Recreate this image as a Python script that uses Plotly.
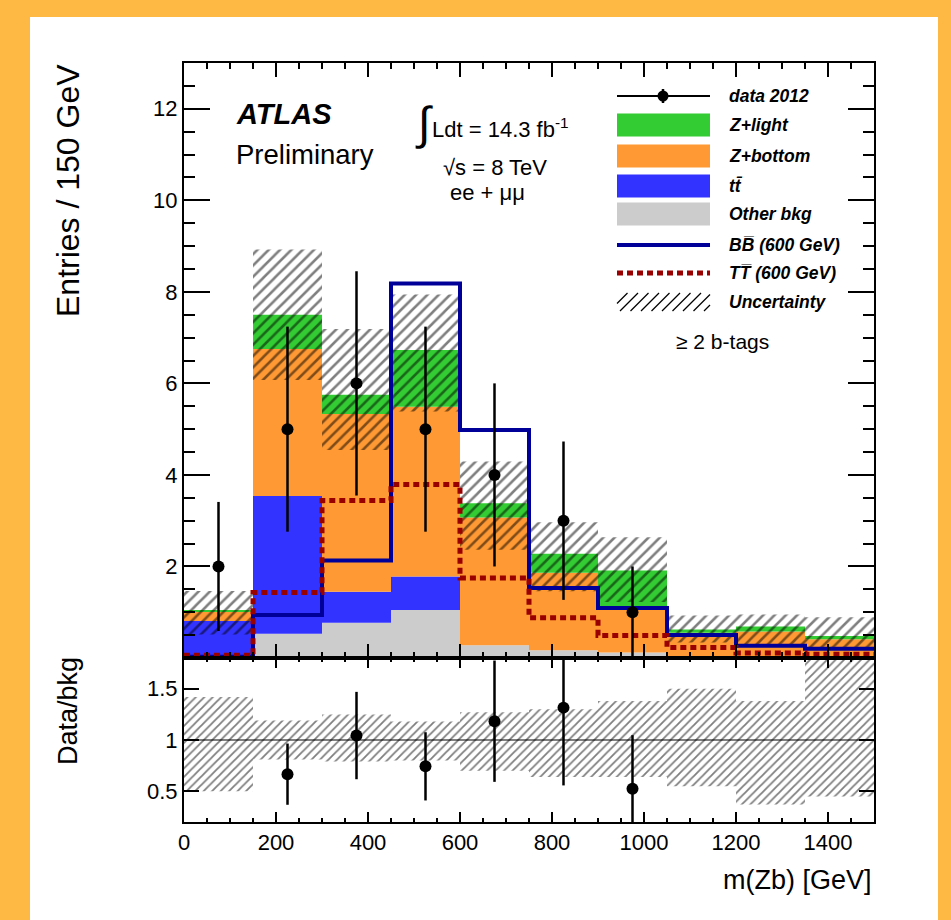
import numpy as np
import plotly.graph_objects as go

# ---------------- data ----------------
bin_edges = [0, 150, 300, 450, 600, 750, 900, 1050, 1200, 1350, 1500]
other_bkg = [0.03, 0.53, 0.77, 1.05, 0.28, 0.17, 0.12, 0.03, 0.03, 0.03]
ttbar     = [0.78, 3.01, 0.68, 0.73, 0.00, 0.00, 0.00, 0.00, 0.00, 0.00]
z_bottom  = [0.21, 3.21, 3.88, 3.71, 2.79, 1.69, 1.01, 0.52, 0.55, 0.38]
z_light   = [0.01, 0.75, 0.42, 1.24, 0.31, 0.42, 0.78, 0.07, 0.11, 0.07]
data_counts = [2, 5, 6, 5, 4, 3, 1, 0, 0, 0]
data_err    = [1.41, 2.24, 2.45, 2.24, 2.00, 1.73, 1.00, 0, 0, 0]
bb600 = [0.03, 0.94, 2.13, 8.18, 4.98, 1.53, 1.09, 0.50, 0.27, 0.20]
tt600 = [0.06, 1.43, 3.44, 3.79, 1.75, 0.88, 0.49, 0.23, 0.11, 0.08]
unc_rel_up = [1.42, 1.19, 1.25, 1.18, 1.27, 1.30, 1.38, 1.50, 1.38, 1.85]
unc_rel_dn = [0.50, 0.81, 0.79, 0.80, 0.70, 0.64, 0.64, 0.55, 0.37, 0.45]
x_ticks = [0, 200, 400, 600, 800, 1000, 1200, 1400]
y_ticks = [2, 4, 6, 8, 10, 12]
r_ticks = [0.5, 1, 1.5]

# ---------------- derived ----------------
edges = np.array(bin_edges, float)
centers = 0.5 * (edges[:-1] + edges[1:])
widths = np.diff(edges)
c_gray = np.array(other_bkg)
c_blue = c_gray + np.array(ttbar)
c_orange = c_blue + np.array(z_bottom)
total = c_orange + np.array(z_light)
up = np.array(unc_rel_up)
dn = np.array(unc_rel_dn)
dc = np.array(data_counts, float)
de = np.array(data_err, float)

C_GREEN = "#33CC33"
C_ORANGE = "#FF9933"
C_BLUE = "#3333FF"
C_GRAY = "#CCCCCC"
C_NAVY = "#000099"
C_RED = "#990000"
FONT = "Liberation Sans, Arial, Helvetica, sans-serif"

# geometry of plot area in pixels (for decorations only)
W, H = 951, 920
L, R, T, B = 184, 874, 63, 822
def px(p):
    return (p - L) / (R - L)
def py(p):
    return (B - p) / (B - T)

ratio_frac = (B - 658) / (B - T)

fig = go.Figure()

# stacked backgrounds
for comp_base, comp_top, col in [
    (np.zeros(10), c_gray, C_GRAY),
    (c_gray, c_blue, C_BLUE),
    (c_blue, c_orange, C_ORANGE),
    (c_orange, total, C_GREEN),
]:
    fig.add_trace(go.Bar(x=centers, y=comp_top - comp_base, base=comp_base, width=widths,
                         marker=dict(color=col, line=dict(width=0)),
                         xaxis="x", yaxis="y", showlegend=False, hoverinfo="skip"))

# uncertainty hatch (top)
fig.add_trace(go.Bar(x=centers, y=total * (up - dn), base=total * dn, width=widths,
                     marker=dict(color="rgba(0,0,0,0)", line=dict(width=0),
                                 pattern=dict(shape="/", fgcolor="black", bgcolor="rgba(0,0,0,0)",
                                              size=8, solidity=0.32, fillmode="overlay")),
                     xaxis="x", yaxis="y", showlegend=False, hoverinfo="skip"))

# signal lines
fig.add_trace(go.Scatter(x=edges, y=list(bb600) + [bb600[-1]], mode="lines",
                         line=dict(shape="hv", color=C_NAVY, width=4),
                         xaxis="x", yaxis="y", showlegend=False))
fig.add_trace(go.Scatter(x=edges, y=list(tt600) + [tt600[-1]], mode="lines",
                         line=dict(shape="hv", color=C_RED, width=5, dash="6px,4px"),
                         xaxis="x", yaxis="y", showlegend=False))

# data
m = dc > 0
fig.add_trace(go.Scatter(x=centers[m], y=dc[m], mode="markers",
                         marker=dict(size=12, color="black"),
                         error_y=dict(type="data", array=de[m], thickness=2.5, width=0, color="black"),
                         xaxis="x", yaxis="y", showlegend=False))

# ratio hatch
fig.add_trace(go.Bar(x=centers, y=up - dn, base=dn, width=widths,
                     marker=dict(color="rgba(0,0,0,0)", line=dict(width=0),
                                 pattern=dict(shape="/", fgcolor="black", bgcolor="rgba(0,0,0,0)",
                                              size=6, solidity=0.3, fillmode="overlay")),
                     xaxis="x2", yaxis="y2", showlegend=False, hoverinfo="skip"))

ratio = np.where(total > 0, dc / total, 0)
rerr = np.where(total > 0, de / total, 0)
mr = (dc > 0) & (ratio <= 1.8)
fig.add_trace(go.Scatter(x=centers[mr], y=ratio[mr], mode="markers",
                         marker=dict(size=12, color="black"),
                         error_y=dict(type="data", array=rerr[mr], thickness=2.5, width=0, color="black"),
                         xaxis="x2", yaxis="y2", showlegend=False))

shapes = []
# white page on orange border
shapes.append(dict(type="rect", xref="paper", yref="paper", layer="below",
                   x0=px(30), x1=px(938), y0=py(17), y1=py(925),
                   fillcolor="white", line=dict(width=0)))
# ratio reference line
shapes.append(dict(type="line", xref="x2 domain", yref="y2", x0=0, x1=1, y0=1, y1=1,
                   line=dict(color="black", width=1)))

# legend
leg_x0, leg_x1 = 617, 710
rows = [96, 125, 156, 186, 214, 245, 273, 302]
labels = ["data 2012", "Z+light", "Z+bottom", "tt\u0304", "Other bkg",
          "BB\u0305 (600 GeV)", "TT\u0305 (600 GeV)", "Uncertainty"]
# data swatch
shapes.append(dict(type="line", xref="paper", yref="paper", x0=px(leg_x0), x1=px(leg_x1),
                   y0=py(rows[0]), y1=py(rows[0]), line=dict(color="black", width=2)))
shapes.append(dict(type="line", xref="paper", yref="paper", x0=px(663), x1=px(663),
                   y0=py(rows[0] - 7), y1=py(rows[0] + 7), line=dict(color="black", width=2.5)))
shapes.append(dict(type="circle", xref="paper", yref="paper", x0=px(657.5), x1=px(668.5),
                   y0=py(rows[0] - 5.5), y1=py(rows[0] + 5.5), fillcolor="black", line=dict(width=0)))
for r, col in zip(rows[1:5], [C_GREEN, C_ORANGE, C_BLUE, C_GRAY]):
    shapes.append(dict(type="rect", xref="paper", yref="paper", x0=px(leg_x0), x1=px(leg_x1),
                       y0=py(r - 11.5), y1=py(r + 11.5), fillcolor=col, line=dict(width=0)))
shapes.append(dict(type="line", xref="paper", yref="paper", x0=px(leg_x0), x1=px(leg_x1),
                   y0=py(rows[5]), y1=py(rows[5]), line=dict(color=C_NAVY, width=4)))
shapes.append(dict(type="line", xref="paper", yref="paper", x0=px(leg_x0), x1=px(leg_x1),
                   y0=py(rows[6]), y1=py(rows[6]), line=dict(color=C_RED, width=5, dash="6px,4px")))
# hatch swatch
hy0, hy1 = rows[7] + 9, rows[7] - 9
step = 10.5
s = leg_x0 - 18
while s < leg_x1:
    xa, ya, xb, yb = s, hy0, s + 18, hy1
    if xa < leg_x0:
        ya = hy0 - (leg_x0 - xa); xa = leg_x0
    if xb > leg_x1:
        yb = hy1 + (xb - leg_x1); xb = leg_x1
    if xb > xa:
        shapes.append(dict(type="line", xref="paper", yref="paper", x0=px(xa), x1=px(xb),
                           y0=py(ya), y1=py(yb), line=dict(color="black", width=1.2)))
    s += step

annotations = []
def ann(text, x, y, size, xanchor="left", yanchor="middle", angle=0, family=FONT):
    annotations.append(dict(text=text, x=px(x), y=py(y), xref="paper", yref="paper",
                            xanchor=xanchor, yanchor=yanchor, showarrow=False, textangle=angle,
                            font=dict(family=family, size=size, color="black")))

for r, lab in zip(rows, labels):
    ann("<b><i>%s</i></b>" % lab, 727, r, 17.5)
ann("\u2265 2 b-tags", 674, 341, 21)
ann("<b><i>ATLAS</i></b>", 234, 114, 29)
ann("Preliminary", 234, 154, 27.5)
ann("\u222b", 424, 123, 46, xanchor="center")
ann("Ldt = 14.3 fb<sup>-1</sup>", 430, 128, 22)
ann("\u221as = 8 TeV", 441, 167, 22)
ann("ee + \u03bc\u03bc", 448, 193, 22)
ann("m(Zb) [GeV]", 874, 880, 27, xanchor="right")
ann("Entries / 150 GeV", 68, 191, 32, xanchor="center", angle=-90)
ann("Data/bkg", 68, 711, 27, xanchor="center", angle=-90)

axis_common = dict(showline=True, linewidth=2, linecolor="black", mirror="allticks",
                   ticks="inside", tickcolor="black", tickwidth=1.5, showgrid=False, zeroline=False,
                   tickfont=dict(family=FONT, size=22, color="black"))

fig.update_layout(
    width=W, height=H,
    margin=dict(l=L, r=W - R, t=T, b=H - B, pad=0),
    paper_bgcolor="#FDB944", plot_bgcolor="white",
    barmode="overlay", showlegend=False,
    xaxis=dict(domain=[0, 1], anchor="y", range=[0, 1500], tickvals=x_ticks, showticklabels=False,
               ticklen=14, minor=dict(dtick=50, ticklen=6, ticks="inside", tickcolor="black", tickwidth=1.5),
               **axis_common),
    yaxis=dict(domain=[ratio_frac, 1], anchor="x", range=[0, 13], tickvals=y_ticks,
               ticklen=26, minor=dict(dtick=0.5, tick0=0, ticklen=11, ticks="inside", tickcolor="black", tickwidth=1.5),
               **axis_common),
    xaxis2=dict(domain=[0, 1], anchor="y2", range=[0, 1500], tickvals=x_ticks,
                ticklen=10, minor=dict(dtick=50, ticklen=4, ticks="inside", tickcolor="black", tickwidth=1.5),
                **axis_common),
    yaxis2=dict(domain=[0, ratio_frac], anchor="x2", range=[0.2, 1.8], tickvals=r_ticks,
                ticktext=["0.5", "1", "1.5"], ticklen=15, **axis_common),
    shapes=shapes, annotations=annotations,
)

fig.write_html("out.html", config={"displayModeBar": False},
               post_script="document.body.style.margin='0';document.body.style.overflow='hidden';")
